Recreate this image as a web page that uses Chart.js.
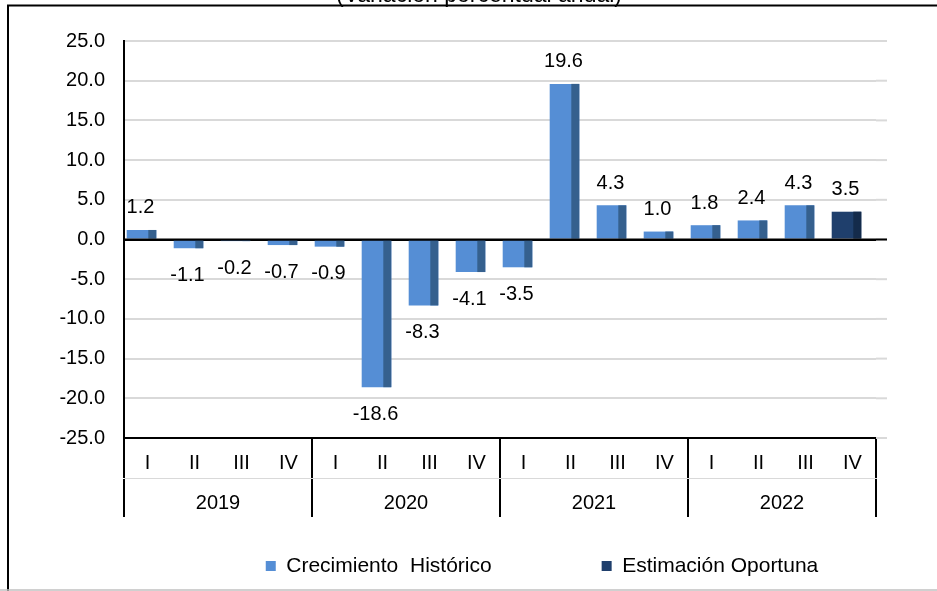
<!DOCTYPE html>
<html>
<head>
<meta charset="utf-8">
<script src="https://cdn.jsdelivr.net/npm/chart.js@4"></script>
<style>
  html, body { margin: 0; padding: 0; background: #fff; }
  #caja { width: 937px; height: 591px; position: relative; }
</style>
</head>
<body>
<div id="caja"><canvas id="pib"></canvas></div>
<script>
const subtitulo = '(Variación porcentual anual)';
const trimestres = ['I', 'II', 'III', 'IV', 'I', 'II', 'III', 'IV', 'I', 'II', 'III', 'IV', 'I', 'II', 'III', 'IV'];
const anios = ['2019', '2020', '2021', '2022'];
const historico = [1.2, -1.1, -0.2, -0.7, -0.9, -18.6, -8.3, -4.1, -3.5, 19.6, 4.3, 1.0, 1.8, 2.4, 4.3, null];
const oportuna = [null, null, null, null, null, null, null, null, null, null, null, null, null, null, null, 3.5];
const yMin = -25, yMax = 25, yPaso = 5;

Chart.defaults.font.family = 'Arial, "Liberation Sans", sans-serif';
Chart.defaults.color = '#000';

// marco y subtitulo (cortado arriba como en el original)
const marco = {
  id: 'marco',
  beforeDraw(chart) {
    const { ctx, width, height } = chart;
    ctx.save();
    ctx.strokeStyle = '#000';
    ctx.lineWidth = 2;
    ctx.beginPath();
    ctx.moveTo(8, height);
    ctx.lineTo(8, 5.5);
    ctx.lineTo(width, 5.5);
    ctx.stroke();
    ctx.strokeStyle = '#c0c0c0';
    ctx.lineWidth = 1.5;
    ctx.beginPath();
    ctx.moveTo(0, 590);
    ctx.lineTo(width, 590);
    ctx.stroke();
    ctx.fillStyle = '#000';
    ctx.font = '23px Arial, "Liberation Sans", sans-serif';
    ctx.textAlign = 'center';
    ctx.textBaseline = 'alphabetic';
    ctx.fillText(subtitulo, 479, 2);
    ctx.restore();
  }
};

// barras con lado oscuro + etiquetas de valor
const barras = {
  id: 'barras',
  beforeDatasetsDraw(chart) {
    const { ctx, chartArea: a, scales: { y } } = chart;
    ctx.save();
    y.ticks.forEach(t => {
      const py = y.getPixelForValue(t.value);
      ctx.strokeStyle = '#d9d9d9';
      ctx.lineWidth = 2;
      ctx.beginPath();
      ctx.moveTo(a.right, py);
      ctx.lineTo(a.right + 11, py);
      ctx.stroke();
    });
    ctx.restore();
    ctx.save();
    ctx.translate(-6, 0);
  },
  afterDatasetsDraw(chart) {
    const { ctx, chartArea: a, scales: { y } } = chart;
    chart.data.datasets.forEach((ds, i) => {
      const meta = chart.getDatasetMeta(i);
      meta.data.forEach((bar, j) => {
        const v = ds.data[j];
        if (v == null) return;
        const { x, y: py, base, width } = bar.getProps(['x', 'y', 'base', 'width'], true);
        ctx.fillStyle = ds.ladoColor;
        ctx.fillRect(x + width / 2 - 8, Math.min(py, base), 8, Math.abs(base - py));
        ctx.fillStyle = '#000';
        ctx.font = '20px Arial, "Liberation Sans", sans-serif';
        ctx.textAlign = 'center';
        ctx.textBaseline = 'middle';
        ctx.fillText(v.toFixed(1), x - 1, v >= 0 ? py - 22 : py + 27);
      });
    });
    ctx.restore();
    // linea del cero por encima
    const y0 = y.getPixelForValue(0);
    ctx.save();
    ctx.strokeStyle = '#000';
    ctx.lineWidth = 2;
    ctx.beginPath();
    ctx.moveTo(a.left, y0);
    ctx.lineTo(a.right + 11, y0);
    ctx.stroke();
    ctx.restore();
  }
};

// separa los elementos de la leyenda como en el original
const leyenda = {
  id: 'leyenda',
  afterInit(chart) {
    const lg = chart.legend;
    const dibujar = lg._draw;
    lg._draw = function () {
      const c = this.ctx;
      c.save();
      c.translate(104, -100);
      dibujar.apply(this, arguments);
      c.restore();
    };
  }
};

new Chart(document.getElementById('pib'), {
  type: 'bar',
  data: {
    labels: trimestres,
    datasets: [
      {
        label: 'Crecimiento  Histórico',
        data: historico,
        backgroundColor: '#558ed5',
        ladoColor: '#35608e',
        categoryPercentage: 1,
        barPercentage: 0.63,
        grouped: false
      },
      {
        label: 'Estimación Oportuna',
        data: oportuna,
        backgroundColor: '#1f3f6c',
        ladoColor: '#142b4b',
        categoryPercentage: 1,
        barPercentage: 0.63,
        grouped: false
      }
    ]
  },
  options: {
    responsive: true,
    maintainAspectRatio: false,
    animation: false,
    layout: { padding: { top: 41, left: 0, right: 61, bottom: 1.5 } },
    plugins: {
      tooltip: { enabled: false },
      legend: {
        position: 'bottom',
        maxHeight: 44,
        labels: {
          boxWidth: 10,
          boxHeight: 10,
          padding: 110,
          color: '#000',
          font: { size: 21 }
        }
      }
    },
    scales: {
      y: {
        min: yMin,
        max: yMax,
        ticks: {
          stepSize: yPaso,
          padding: 19,
          font: { size: 20 },
          callback: v => v.toFixed(1)
        },
        grid: {
          color: c => c.tick && c.tick.value === 0 ? '#000' : '#d9d9d9',
          lineWidth: 2,
          drawTicks: false
        },
        border: { color: '#000', width: 2 },
        afterFit: s => { s.width = 124; }
      },
      x: {
        offset: true,
        ticks: { padding: -27, font: { size: 20 }, autoSkip: false, maxRotation: 0 },
        grid: {
          offset: true,
          drawOnChartArea: false,
          tickLength: 40,
          lineWidth: 2,
          color: c => (c.index === undefined || c.index % 4 === 0) ? '#000' : 'rgba(0,0,0,0)'
        },
        border: { color: '#000', width: 2 },
        afterFit: s => { s.height = 40; }
      },
      x2: {
        type: 'category',
        position: 'bottom',
        labels: anios,
        offset: true,
        ticks: { padding: -26, font: { size: 20 }, autoSkip: false, maxRotation: 0 },
        grid: {
          offset: true,
          drawOnChartArea: false,
          tickLength: 39,
          lineWidth: 2,
          color: '#000'
        },
        border: { color: '#d9d9d9', width: 1 },
        afterFit: s => { s.height = 67.5; }
      }
    }
  },
  plugins: [marco, barras, leyenda]
});
</script>
</body>
</html>
